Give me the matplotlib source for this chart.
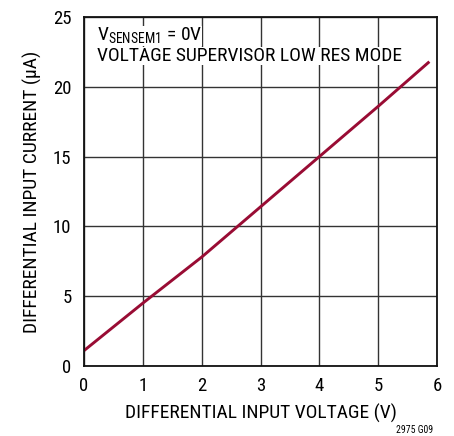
# Differential input current vs differential input voltage

import matplotlib.pyplot as plt

plt.rcParams['font.family'] = ['Roboto Condensed', 'DejaVu Sans']
plt.rcParams['mathtext.fontset'] = 'custom'
plt.rcParams['mathtext.rm'] = 'Roboto Condensed'

voltage = [0, 1, 2, 3, 4, 5, 5.87]
current = [1.1, 4.5, 7.8, 11.4, 15.0, 18.6, 21.8]
x_ticks = [0, 1, 2, 3, 4, 5, 6]
y_ticks = [0, 5, 10, 15, 20, 25]

fig = plt.figure(figsize=(4.54, 4.36), dpi=100)
ax = fig.add_axes([0.185, 0.1606, 0.7776, 0.8004])

ax.plot(voltage, current, color='#990C34', lw=2.1, solid_capstyle='butt')

ax.set_xlim(0, 6)
ax.set_ylim(0, 25)
ax.set_xticks(x_ticks)
ax.set_yticks(y_ticks)
ax.tick_params(length=0, labelsize=13.5)
ax.tick_params(axis='x', pad=8)
ax.tick_params(axis='y', pad=9)
ax.grid(True, color='#333333', lw=1)
for s in ax.spines.values():
    s.set_linewidth(1.3)
    s.set_color('#111111')

ax.set_xlabel('DIFFERENTIAL INPUT VOLTAGE (V)', fontsize=14, labelpad=6)
ax.set_ylabel('DIFFERENTIAL INPUT CURRENT (µA)', fontsize=14, labelpad=8)

ax.text(0.037, 0.975, r'V$_{\mathregular{SENSEM1}}$ = 0V', transform=ax.transAxes,
        fontsize=14, va='top', ha='left',
        bbox=dict(facecolor='white', edgecolor='none', pad=0))
ax.text(0.037, 0.913, 'VOLTAGE SUPERVISOR LOW RES MODE', transform=ax.transAxes,
        fontsize=14, va='top', ha='left',
        bbox=dict(facecolor='white', edgecolor='none', pad=0))

fig.text(0.955, 0.003, '2975 G09', fontsize=7, ha='right', va='bottom')

plt.savefig("out.png", dpi=100)
plt.close(fig)
